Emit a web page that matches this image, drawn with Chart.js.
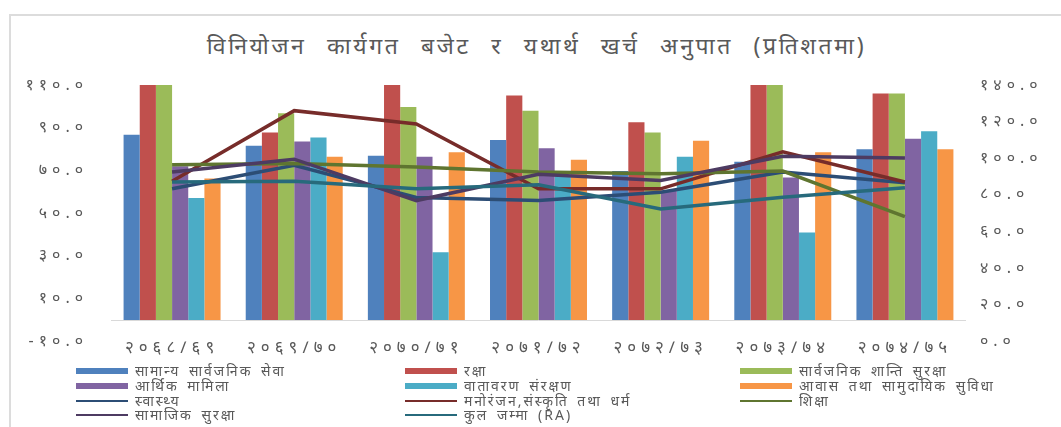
<!DOCTYPE html>
<html>
<head>
<meta charset="utf-8">
<script src="https://cdn.jsdelivr.net/npm/chart.js@4/dist/chart.umd.min.js"></script>
<style>
    body { margin: 0; background: #fff; font-family: 'Noto Sans', sans-serif; }
    #frame { position: absolute; left: 9px; top: 14px; width: 1100px; height: 500px;
             border-left: 2px solid #dcdcdc; border-top: 2px solid #dcdcdc; }
    #title { position: absolute; left: 0; width: 1073px; top: 29px; text-align: center;
             font-size: 23px; color: #595959; letter-spacing: 2.6px; word-spacing: 12px; line-height: 32px; }
    #chart { position: absolute; left: 0; top: 0; }
    #legend { position: absolute; left: 76px; top: 364px; display: grid;
              grid-template-columns: 329px 335px 300px; grid-auto-rows: 14.7px;
              font-size: 14px; color: #595959; letter-spacing: 2px; word-spacing: 3px; }
    .item { display: flex; align-items: center; white-space: nowrap; line-height: 14px; }
    .sw { width: 52px; margin-right: 7px; flex: none; }
</style>
</head>
<body>
<div id="frame"></div>
<div id="title">विनियोजन कार्यगत बजेट र यथार्थ खर्च अनुपात (प्रतिशतमा)</div>
<canvas id="chart" width="1061" height="374"></canvas>
<div id="legend"></div>
<script>
// वर्षहरू
const categories = ['२०६८/६९', '२०६९/७०', '२०७०/७१', '२०७१/७२', '२०७२/७३', '२०७३/७४', '२०७४/७५'];

// स्तम्भ (बायाँ अक्ष)
const samanyaSewa   = [86.7, 81.6, 76.9, 84.3, 69.7, 74.1, 79.9];
const raksha        = [121, 87.8, 116, 105.1, 92.6, 119, 106];
const shantiSuraksha = [121, 96.8, 99.7, 98.0, 87.8, 118, 106];
const arthikMamila  = [72.0, 83.5, 76.4, 80.4, 60.5, 66.7, 84.8];
const vatavaran     = [57.1, 85.4, 31.7, 68.0, 76.4, 41.0, 88.3];
const awas          = [66.2, 76.4, 78.5, 75.0, 83.9, 78.5, 79.9];

// रेखा (दायाँ अक्ष)
const swasthya      = [83.3, 96.2, 78.6, 76.9, 81.5, 92.5, 86.6];
const manoranjan    = [87.4, 126.0, 118.7, 83.3, 83.3, 103.5, 87.0];
const shiksha       = [96.5, 97.1, 95.2, 92.5, 91.6, 93.0, 68.1];
const samajik       = [92.5, 99.5, 76.9, 91.2, 87.9, 101.1, 100.2];
const kulJamma      = [87.0, 87.4, 83.3, 85.5, 72.3, 78.7, 83.9];

const LEFT_TICKS = { min: -10, max: 110, step: 20 };
const RIGHT_TICKS = { min: 0, max: 140, step: 20 };

const DEV_DIGITS = '०१२३४५६७८९';
const toDev = v => Number(v).toFixed(1).replace(/[0-9]/g, d => DEV_DIGITS[d]);

const FONT = "'Noto Sans', 'Noto Sans Devanagari', sans-serif";
const TEXT = '#595959';

const bars = [
    ['सामान्य सार्वजनिक सेवा', samanyaSewa, '#4F81BD'],
    ['रक्षा', raksha, '#C0504D'],
    ['सार्वजनिक शान्ति सुरक्षा', shantiSuraksha, '#9BBB59'],
    ['आर्थिक मामिला', arthikMamila, '#8064A2'],
    ['वातावरण संरक्षण', vatavaran, '#4BACC6'],
    ['आवास तथा सामुदायिक सुविधा', awas, '#F79646']
];
const lines = [
    ['स्वास्थ्य', swasthya, '#2C4D75'],
    ['मनोरंजन,संस्कृति तथा धर्म', manoranjan, '#772C2A'],
    ['शिक्षा', shiksha, '#5F7530'],
    ['सामाजिक सुरक्षा', samajik, '#4D3B62'],
    ['कुल जम्मा (RA)', kulJamma, '#276A7C']
];

const datasets = [
    ...bars.map(([label, data, color]) => ({
        type: 'bar', label, data, backgroundColor: color, yAxisID: 'y',
        categoryPercentage: 0.794, barPercentage: 1.0, order: 20
    })),
    ...lines.map(([label, data, color], i) => ({
        type: 'line', label, data, borderColor: color, backgroundColor: color, yAxisID: 'y1',
        borderWidth: 3.5, pointRadius: 0, tension: 0, fill: false, order: 10 - i
    }))
];

// शून्य रेखा + अक्षरबीचको खाली ठाउँ
const extras = {
    id: 'extras',
    beforeDraw(chart) {
        chart.ctx.letterSpacing = '5px';
    },
    beforeDatasetsDraw(chart) {
        const { ctx, chartArea, scales } = chart;
        const y = Math.round(scales.y.getPixelForValue(0)) + 0.5;
        ctx.save();
        ctx.strokeStyle = '#d9d9d9';
        ctx.lineWidth = 1;
        ctx.beginPath();
        ctx.moveTo(chartArea.left, y);
        ctx.lineTo(chartArea.right, y);
        ctx.stroke();
        ctx.restore();
    }
};

new Chart(document.getElementById('chart'), {
    type: 'bar',
    data: { labels: categories, datasets },
    options: {
        responsive: false,
        animation: false,
        layout: { padding: { top: 85 } },
        plugins: {
            legend: { display: false },
            tooltip: { enabled: false }
        },
        scales: {
            x: {
                grid: { display: false, drawTicks: false },
                border: { display: false },
                ticks: { color: TEXT, font: { family: FONT, size: 17 }, padding: -3, maxRotation: 0, autoSkip: false },
                afterFit: s => { s.height = 23; }
            },
            y: {
                position: 'left',
                min: LEFT_TICKS.min, max: LEFT_TICKS.max,
                grid: { display: false, drawTicks: false },
                border: { display: false },
                ticks: { stepSize: LEFT_TICKS.step, color: TEXT, font: { family: FONT, size: 16 }, padding: 23, callback: toDev },
                afterFit: s => { s.width = 111; }
            },
            y1: {
                position: 'right',
                min: RIGHT_TICKS.min, max: RIGHT_TICKS.max,
                grid: { display: false, drawTicks: false },
                border: { display: false },
                ticks: { stepSize: RIGHT_TICKS.step, color: TEXT, font: { family: FONT, size: 16 }, padding: 14, callback: toDev },
                afterFit: s => { s.width = 95; }
            }
        }
    },
    plugins: [extras]
});

// लेजेन्ड
const legend = document.getElementById('legend');
[...bars.map(b => [...b, 'bar']), ...lines.map(l => [...l, 'line'])].forEach(([label, , color, kind]) => {
    const item = document.createElement('div');
    item.className = 'item';
    const sw = document.createElement('span');
    sw.className = 'sw';
    sw.style.height = kind === 'bar' ? '6px' : '2px';
    sw.style.background = color;
    item.appendChild(sw);
    item.appendChild(document.createTextNode(label));
    legend.appendChild(item);
});
</script>
</body>
</html>
